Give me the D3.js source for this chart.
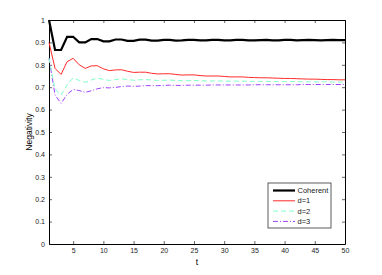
<!DOCTYPE html>
<html>
<head>
<meta charset="utf-8">
<script src="https://cdn.jsdelivr.net/npm/d3@7"></script>
<style>
  body { margin: 0; background: #fff; }
  svg { display: block; }
  text { font-family: "Liberation Sans", Arial, sans-serif; }
</style>
</head>
<body>
<svg></svg>
<script>
width = 382
height = 275
margin = {top: 20, right: 37, bottom: 31, left: 49}

t = d3.range(1, 51)
coherent = [1.0, 0.866, 0.866, 0.925, 0.925, 0.9, 0.9, 0.915, 0.915, 0.905, 0.905, 0.913, 0.913, 0.907, 0.907, 0.912, 0.912, 0.908, 0.908, 0.911, 0.911, 0.908, 0.909, 0.911, 0.911, 0.909, 0.909, 0.911, 0.911, 0.909, 0.909, 0.911, 0.911, 0.909, 0.909, 0.91, 0.911, 0.909, 0.909, 0.911, 0.911, 0.909, 0.91, 0.911, 0.91, 0.909, 0.91, 0.911, 0.91, 0.91]
d1 = [0.9, 0.784, 0.757, 0.814, 0.829, 0.8, 0.784, 0.795, 0.796, 0.782, 0.774, 0.777, 0.778, 0.771, 0.766, 0.767, 0.767, 0.762, 0.759, 0.76, 0.76, 0.757, 0.754, 0.755, 0.755, 0.752, 0.75, 0.75, 0.75, 0.748, 0.746, 0.746, 0.746, 0.744, 0.743, 0.742, 0.742, 0.741, 0.74, 0.739, 0.739, 0.738, 0.737, 0.736, 0.736, 0.735, 0.734, 0.734, 0.733, 0.733]
d2 = [0.83, 0.69, 0.665, 0.71, 0.742, 0.73, 0.722, 0.732, 0.74, 0.735, 0.73, 0.734, 0.737, 0.734, 0.731, 0.733, 0.734, 0.732, 0.73, 0.731, 0.732, 0.73, 0.729, 0.729, 0.73, 0.729, 0.728, 0.728, 0.728, 0.727, 0.727, 0.727, 0.727, 0.726, 0.726, 0.726, 0.726, 0.725, 0.725, 0.725, 0.725, 0.725, 0.724, 0.724, 0.724, 0.724, 0.724, 0.723, 0.723, 0.723]
d3v = [0.83, 0.665, 0.628, 0.668, 0.69, 0.685, 0.677, 0.684, 0.693, 0.698, 0.697, 0.699, 0.703, 0.705, 0.704, 0.705, 0.707, 0.707, 0.707, 0.708, 0.709, 0.708, 0.708, 0.709, 0.709, 0.709, 0.709, 0.71, 0.71, 0.71, 0.71, 0.71, 0.71, 0.71, 0.711, 0.711, 0.711, 0.711, 0.711, 0.711, 0.711, 0.711, 0.712, 0.712, 0.712, 0.712, 0.712, 0.712, 0.712, 0.712]

seriesNames = ["Coherent", "d=1", "d=2", "d=3"]
seriesValues = [coherent, d1, d2, d3v]
xTicks = [5, 10, 15, 20, 25, 30, 35, 40, 45, 50]
yTicks = [0, 0.1, 0.2, 0.3, 0.4, 0.5, 0.6, 0.7, 0.8, 0.9, 1]

styles = [
  {color: "#000", width: 2.2, dash: null},
  {color: "#ff2a2a", width: 1, dash: null},
  {color: "#80ffc8", width: 1, dash: "5,3"},
  {color: "#a040ff", width: 1, dash: "5,2,1,2"}
]

x = d3.scaleLinear().domain([1, 50]).range([margin.left, width - margin.right])
y = d3.scaleLinear().domain([0, 1]).range([height - margin.bottom, margin.top])

svg = d3.select("svg")
    .attr("width", width)
    .attr("height", height)
    .attr("font-size", 7)

// axes box, matlab style ticks inward on all four sides
svg.append("g")
    .attr("transform", `translate(0,${y(0)})`)
    .call(d3.axisBottom(x).tickValues(xTicks).tickSizeInner(-3).tickSizeOuter(0).tickPadding(4))
    .call(g => g.selectAll("text").attr("fill", "#222").attr("font-size", 7))
svg.append("g")
    .attr("transform", `translate(0,${y(1)})`)
    .call(d3.axisTop(x).tickValues(xTicks).tickSizeInner(-3).tickSizeOuter(0).tickFormat(""))
svg.append("g")
    .attr("transform", `translate(${x(1)},0)`)
    .call(d3.axisLeft(y).tickValues(yTicks).tickSizeInner(-3).tickSizeOuter(0).tickPadding(4).tickFormat(d3.format("~g")))
    .call(g => g.selectAll("text").attr("fill", "#222").attr("font-size", 7))
svg.append("g")
    .attr("transform", `translate(${x(50)},0)`)
    .call(d3.axisRight(y).tickValues(yTicks).tickSizeInner(-3).tickSizeOuter(0).tickFormat(""))

svg.selectAll(".domain").attr("stroke", "#000").attr("stroke-width", 1)
svg.selectAll(".tick line").attr("stroke", "#000").attr("stroke-width", 0.6)

line = d3.line()
    .x((d, i) => x(t[i]))
    .y(d => y(d))

svg.append("g")
  .selectAll("path")
  .data(seriesValues.slice().reverse())
  .join("path")
    .attr("fill", "none")
    .attr("stroke", (d, i) => styles[3 - i].color)
    .attr("stroke-width", (d, i) => styles[3 - i].width)
    .attr("stroke-dasharray", (d, i) => styles[3 - i].dash)
    .attr("d", line)

// labels
svg.append("text")
    .attr("x", (x(1) + x(50)) / 2)
    .attr("y", height - 10)
    .attr("text-anchor", "middle")
    .attr("font-size", 8.5)
    .text("t")

svg.append("text")
    .attr("transform", `translate(32,${(y(0) + y(1)) / 2}) rotate(-90)`)
    .attr("text-anchor", "middle")
    .attr("font-size", 8.5)
    .text("Negativity")

// legend
legend = svg.append("g").attr("transform", "translate(268,183)")
legend.append("rect")
    .attr("width", 63)
    .attr("height", 45)
    .attr("fill", "#fff")
    .attr("stroke", "#333")
    .attr("stroke-width", 0.8)

item = legend.selectAll("g.item")
  .data(seriesNames)
  .join("g")
    .attr("transform", (d, i) => `translate(0,${7.5 + i * 10.3})`)

item.append("line")
    .attr("x1", 5).attr("x2", 27)
    .attr("stroke", (d, i) => styles[i].color)
    .attr("stroke-width", (d, i) => styles[i].width)
    .attr("stroke-dasharray", (d, i) => styles[i].dash)

item.append("text")
    .attr("x", 29.5)
    .attr("dy", "0.35em")
    .attr("font-size", 7.5)
    .attr("fill", "#222")
    .text(d => d)
</script>
</body>
</html>
